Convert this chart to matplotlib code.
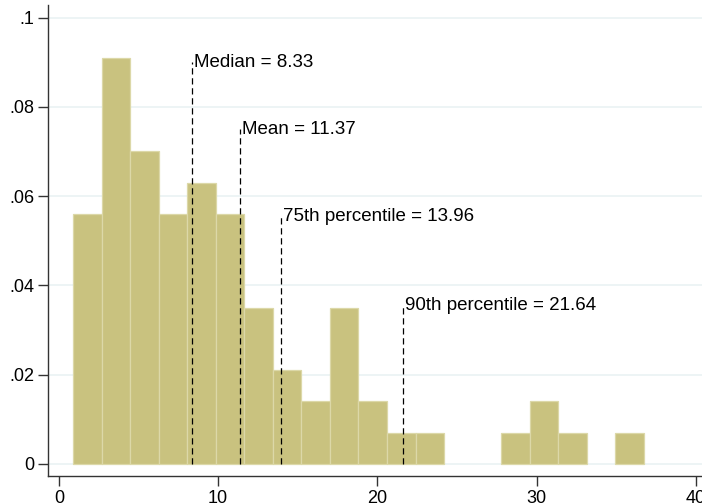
import matplotlib
matplotlib.use("Agg")
import matplotlib.pyplot as plt
import numpy as np

plt.rcParams['font.family'] = ['Liberation Sans', 'DejaVu Sans']

# histogram bins (density)
bin_start = 0.88
bin_width = 1.793
densities = [0.056, 0.091, 0.070, 0.056, 0.063, 0.056, 0.035, 0.021, 0.014, 0.035,
             0.014, 0.007, 0.007, 0.0, 0.0, 0.007, 0.014, 0.007, 0.0, 0.007]

stat_labels = ["Median = 8.33", "Mean = 11.37", "75th percentile = 13.96", "90th percentile = 21.64"]
stat_values = [8.33, 11.37, 13.96, 21.64]
stat_heights = [0.090, 0.075, 0.0555, 0.0355]

yticks = [0, 0.02, 0.04, 0.06, 0.08, 0.1]
yticklabels = ["0", ".02", ".04", ".06", ".08", ".1"]
xticks = [0, 10, 20, 30, 40]

fig = plt.figure(figsize=(7.02, 5.04), dpi=100)
ax = fig.add_axes([48/702, 1-476/504, 1-48/702, (476-5)/504])

for yv in yticks:
    ax.axhline(yv, color='#eaf2f3', lw=1.2, zorder=0)

dens = np.array(densities)
lefts = bin_start + bin_width*np.arange(len(dens))
mask = dens > 0
ax.bar(lefts[mask], dens[mask], width=bin_width, align='edge', color='#c9c27f',
       edgecolor='#dcd8a8', linewidth=0.9, zorder=2)

for lab, v, h in zip(stat_labels, stat_values, stat_heights):
    ax.plot([v, v], [0, h], color='black', lw=0.9, ls=(0, (5, 3)), zorder=3)
    ax.text(v + 0.12, h, lab, fontsize=13.5, va='center', ha='left', zorder=4)

ax.set_xlim(-0.69, 40.39)
ax.set_ylim(-0.0027, 0.1028)
ax.set_yticks(yticks)
ax.set_yticklabels(yticklabels)
ax.set_xticks(xticks)
ax.tick_params(axis='both', labelsize=13, length=7, width=1, color='#333333', pad=3)
for s in ['top', 'right']:
    ax.spines[s].set_visible(False)
for s in ['left', 'bottom']:
    ax.spines[s].set_color('#333333')
    ax.spines[s].set_linewidth(1)

fig.savefig("out.png", dpi=100)
